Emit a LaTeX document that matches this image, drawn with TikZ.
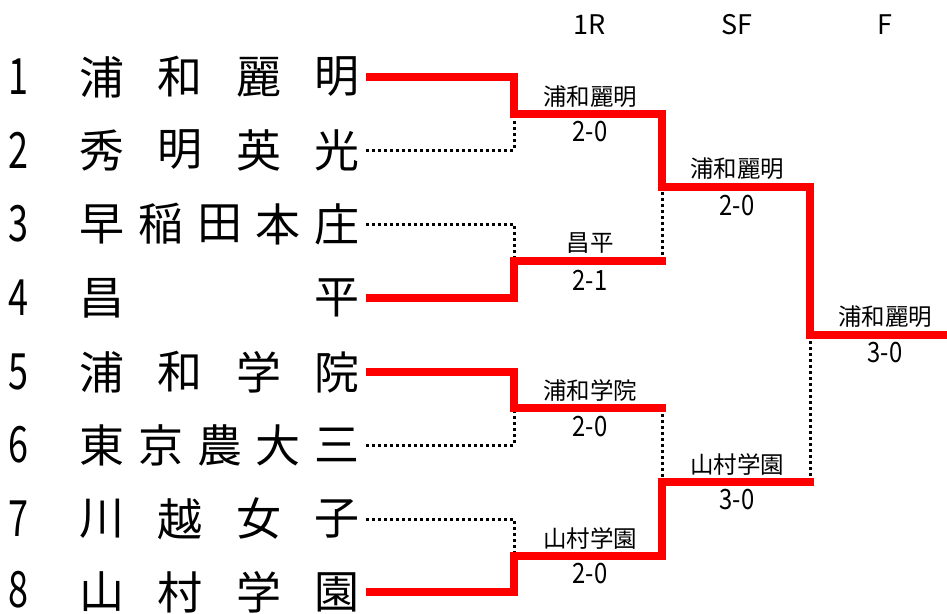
\documentclass[tikz,border=0pt]{standalone}
\usepackage{fontspec}
\setmainfont{Noto Sans CJK JP}
\begin{document}
\begin{tikzpicture}[x=1pt,y=-1pt,
  big/.style={inner sep=0pt,anchor=center,font=\fontsize{45}{50}\selectfont},
  num/.style={inner sep=0pt,anchor=center,font=\fontsize{50}{54}\selectfont},
  lab/.style={inner sep=0pt,anchor=center,font=\fontsize{23.5}{26}\selectfont},
  score/.style={inner sep=0pt,anchor=center,font=\fontsize{28}{30}\selectfont},
  head/.style={inner sep=0pt,anchor=center,font=\fontsize{27}{30}\selectfont},
  winline/.style={draw=red,line width=8pt,line join=miter},
  dotline/.style={draw=black,line width=3pt,dash pattern=on 3pt off 3pt}]
\useasboundingbox (0,0) rectangle (947,613);

% headers
\node[head] (h1) at (590,25) {1R};
\node[head] (h2) at (737,25) {SF};
\node[head] (h3) at (885,25) {F};

% seed numbers
\foreach \n/\yy in {1/77,2/150,3/224,4/298,5/372,6/445,7/519,8/590}
  \node[num] (no\n) at (18,\yy) {\scalebox{0.72}[1]{\n}};

% team names
\foreach \ch [count=\k] in {浦,和,麗,明} \node[big] (r1c\k) at ({102+(\k-1)*78.33},77) {\ch};
\foreach \ch [count=\k] in {秀,明,英,光} \node[big] (r2c\k) at ({102+(\k-1)*78.33},150) {\ch};
\foreach \ch [count=\k] in {早,稲,田,本,庄} \node[big] (r3c\k) at ({102+(\k-1)*58.75},224) {\ch};
\node[big] (r4c1) at (102,298) {昌};
\node[big] (r4c2) at (337,298) {平};
\foreach \ch [count=\k] in {浦,和,学,院} \node[big] (r5c\k) at ({102+(\k-1)*78.33},372) {\ch};
\foreach \ch [count=\k] in {東,京,農,大,三} \node[big] (r6c\k) at ({102+(\k-1)*58.75},445) {\ch};
\foreach \ch [count=\k] in {川,越,女,子} \node[big] (r7c\k) at ({102+(\k-1)*78.33},519) {\ch};
\foreach \ch [count=\k] in {山,村,学,園} \node[big] (r8c\k) at ({102+(\k-1)*78.33},592) {\ch};

% bracket points
\coordinate (s1) at (366,77);
\coordinate (s2) at (366,150);
\coordinate (s3) at (366,224);
\coordinate (s4) at (366,298);
\coordinate (s5) at (366,372);
\coordinate (s6) at (366,445);
\coordinate (s7) at (366,519);
\coordinate (s8) at (366,592);
\coordinate (a1) at (514,114);
\coordinate (a2) at (514,261);
\coordinate (a3) at (514,408);
\coordinate (a4) at (514,556);
\coordinate (b1) at (662,187);
\coordinate (b2) at (662,482);
\coordinate (c1) at (810,335);
\coordinate (fin) at (947,335);

% losers (dotted)
\draw[dotline] (s2) -| (a1);
\draw[dotline] (s3) -| (a2);
\draw[dotline] (s6) -| (a3);
\draw[dotline] (s7) -| (a4);
\draw[dotline] (a2 -| b1) -- (b1);
\draw[dotline] (a3 -| b2) -- (b2);
\draw[dotline] (b2 -| c1) -- (c1);

% winners (red)
\draw[winline] (s1) -| (a1) -| (b1) -| (c1) -- (fin);
\draw[winline] (s4) -| (a2) -- ++(152,0);
\draw[winline] (s5) -| (a3) -- ++(152,0);
\draw[winline] (s8) -| (a4) -| (b2) -- ++(152,0);

% results
\node[lab] (w1) at (590,97) {浦和麗明};
\node[score] (sc1) at (590,132) {\scalebox{0.85}[1]{2-0}};
\node[lab] (w2) at (590,243) {昌平};
\node[score] (sc2) at (590,280) {\scalebox{0.85}[1]{2-1}};
\node[lab] (w3) at (590,391) {浦和学院};
\node[score] (sc3) at (590,427) {\scalebox{0.85}[1]{2-0}};
\node[lab] (w4) at (590,539) {山村学園};
\node[score] (sc4) at (590,574) {\scalebox{0.85}[1]{2-0}};
\node[lab] (w5) at (737,169) {浦和麗明};
\node[score] (sc5) at (737,206) {\scalebox{0.85}[1]{2-0}};
\node[lab] (w6) at (737,465) {山村学園};
\node[score] (sc6) at (737,500) {\scalebox{0.85}[1]{3-0}};
\node[lab] (w7) at (885,317) {浦和麗明};
\node[score] (sc7) at (885,353) {\scalebox{0.85}[1]{3-0}};
\end{tikzpicture}
\end{document}
